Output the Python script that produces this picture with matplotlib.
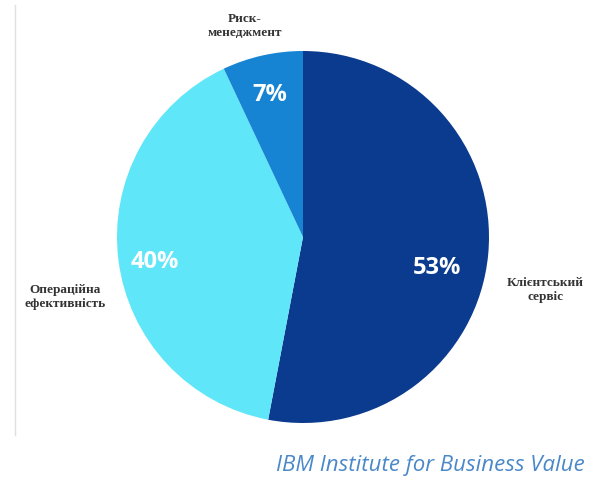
import matplotlib
matplotlib.use('Agg')
import matplotlib.pyplot as plt

labels = ['Клієнтський\nсервіс', 'Операційна\nефективність', 'Риск-\nменеджмент']
shares = [53, 40, 7]
pct_text = ['53%', '40%', '7%']
colors = ['#0b3b8e', '#5fe6f8', '#1684d2']

W, H = 590, 483
fig = plt.figure(figsize=(W / 100, H / 100), dpi=100)
ax = fig.add_axes([0, 0, 1, 1])

cx, cy, r = 303, H - 237, 186
wedges, _ = ax.pie(shares, colors=colors, startangle=90, counterclock=False,
                   center=(cx, cy), radius=r,
                   wedgeprops=dict(edgecolor='none'))
ax.set_xlim(0, W)
ax.set_ylim(0, H)
ax.set_aspect('equal')
ax.axis('off')

# percentage labels inside slices
pct_pos = [(437, 268), (155, 262), (270, 95)]
for (x, y), t in zip(pct_pos, pct_text):
    ax.text(x, H - y, t, color='white', fontsize=17, fontweight='bold',
            family='Open Sans', ha='center', va='center')

# category labels outside
lab_pos = [(545, 290), (65, 297), (245, 26)]
for (x, y), t in zip(lab_pos, labels):
    ax.text(x, H - y, t, color='#333333', fontsize=9.5, fontweight='bold',
            family='Liberation Serif', ha='center', va='center', linespacing=1.3)

ax.text(585, H - 465, 'IBM Institute for Business Value', color='#4a88c8',
        fontsize=16, style='italic', family='Open Sans', ha='right', va='center')

# faint left border
ax.plot([15, 15], [H - 5, H - 435], color='#e0e0e0', lw=1)

fig.savefig('out.png', dpi=100)
